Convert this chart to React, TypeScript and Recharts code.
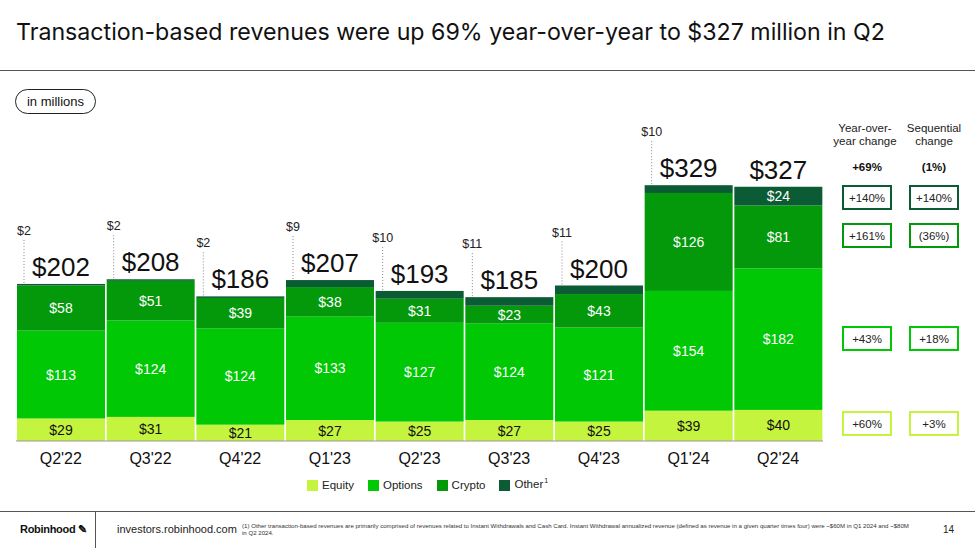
import { Bar, BarChart, XAxis, YAxis } from "recharts";

const quarters = ["Q2'22", "Q3'22", "Q4'22", "Q1'23", "Q2'23", "Q3'23", "Q4'23", "Q1'24", "Q2'24"];
const equity = [29, 31, 21, 27, 25, 27, 25, 39, 40];
const options = [113, 124, 124, 133, 127, 124, 121, 154, 182];
const crypto = [58, 51, 39, 38, 31, 23, 43, 126, 81];
const other = [2, 2, 2, 9, 10, 11, 11, 10, 24];
const totals = [202, 208, 186, 207, 193, 185, 200, 329, 327];
const otherInside = ["Q2'24"];

const yoyHeader = "+69%";
const seqHeader = "(1%)";
const yoyChanges = ["+140%", "+161%", "+43%", "+60%"];
const seqChanges = ["+140%", "(36%)", "+18%", "+3%"];

const COLORS = {
    equity: "#c5f43e",
    options: "#00c805",
    crypto: "#03990b",
    other: "#0b5b34",
};

const TITLE_FONT = "Inter, 'Liberation Sans', sans-serif";
const FONT = "'Liberation Sans', Arial, sans-serif";

const data = quarters.map((q, i) => ({
    q,
    equity: equity[i],
    options: options[i],
    crypto: crypto[i],
    other: other[i],
    total: totals[i],
}));

const segmentShape = (key: string, textColor: string) => (props: any) => {
    const { x, y, width, height, fill, payload } = props;
    const showInside = key !== "other" || otherInside.includes(payload.q);
    return (
        <g>
            <rect x={x} y={y} width={width} height={height} fill={fill} />
            {showInside && (
                <text
                    x={x + width / 2}
                    y={y + height / 2}
                    textAnchor="middle"
                    dominantBaseline="central"
                    fill={textColor}
                    fontSize={14}
                    fontFamily={FONT}
                >
                    ${payload[key]}
                </text>
            )}
            {key === "other" && (
                <text
                    x={x + width / 2}
                    y={y - 17}
                    textAnchor="middle"
                    dominantBaseline="central"
                    fill="#111"
                    fontSize={26}
                    fontFamily={FONT}
                >
                    ${payload.total}
                </text>
            )}
            {key === "other" && !showInside && (
                <g>
                    <line
                        x1={x + 7}
                        x2={x + 7}
                        y1={y - 1}
                        y2={y - 44}
                        stroke="#888"
                        strokeDasharray="1 2"
                    />
                    <text
                        x={x + 7}
                        y={y - 53}
                        textAnchor="middle"
                        dominantBaseline="central"
                        fill="#222"
                        fontSize={12.5}
                        fontFamily={FONT}
                    >
                        ${payload.other}
                    </text>
                </g>
            )}
        </g>
    );
};

const legendItems = [
    { label: "Equity", color: COLORS.equity },
    { label: "Options", color: COLORS.options },
    { label: "Crypto", color: COLORS.crypto },
    { label: "Other", color: COLORS.other, sup: "1" },
];

const boxRows = [
    { top: 185, color: COLORS.other },
    { top: 223, color: COLORS.crypto },
    { top: 326, color: COLORS.options },
    { top: 411, color: COLORS.equity },
];

const Box = ({ left, top, color, text }: any) => (
    <div
        style={{
            position: "absolute",
            left,
            top,
            width: 50,
            height: 25,
            border: `2px solid ${color}`,
            boxSizing: "border-box",
            display: "flex",
            alignItems: "center",
            justifyContent: "center",
            fontSize: 11.5,
            color: "#222",
        }}
    >
        {text}
    </div>
);

export default function App() {
    return (
        <div
            style={{
                position: "absolute",
                left: 0,
                top: 0,
                width: 975,
                height: 548,
                background: "#fff",
                fontFamily: FONT,
                overflow: "hidden",
            }}
        >
            <div
                style={{
                    position: "absolute",
                    left: 16,
                    top: 18,
                    fontSize: 23.2,
                    fontFamily: TITLE_FONT,
                    color: "#111",
                    whiteSpace: "nowrap",
                }}
            >
                Transaction-based revenues were up 69% year-over-year to $327 million in Q2
            </div>
            <div style={{ position: "absolute", left: 0, top: 70, width: 975, height: 1, background: "#555" }} />
            <div
                style={{
                    position: "absolute",
                    left: 15,
                    top: 89,
                    width: 81,
                    height: 25,
                    border: "1px solid #222",
                    borderRadius: 13,
                    boxSizing: "border-box",
                    display: "flex",
                    alignItems: "center",
                    justifyContent: "center",
                    fontSize: 13,
                    color: "#111",
                }}
            >
                in millions
            </div>

            <div style={{ position: "absolute", left: 0, top: 0 }}>
                <BarChart
                    width={975}
                    height={548}
                    data={data}
                    margin={{ top: 130, right: 152, left: 16, bottom: 77 }}
                    barCategoryGap={1}
                >
                    <YAxis hide domain={[0, 400]} />
                    <XAxis
                        dataKey="q"
                        height={30}
                        tickLine={false}
                        axisLine={{ stroke: "#999" }}
                        tick={{ fontSize: 16, fill: "#111", fontFamily: FONT }}
                        tickMargin={6}
                    />
                    <Bar dataKey="equity" stackId="a" fill={COLORS.equity} shape={segmentShape("equity", "#111")} isAnimationActive={false} />
                    <Bar dataKey="options" stackId="a" fill={COLORS.options} shape={segmentShape("options", "#fff")} isAnimationActive={false} />
                    <Bar dataKey="crypto" stackId="a" fill={COLORS.crypto} shape={segmentShape("crypto", "#fff")} isAnimationActive={false} />
                    <Bar dataKey="other" stackId="a" fill={COLORS.other} shape={segmentShape("other", "#fff")} isAnimationActive={false} />
                </BarChart>
            </div>

            <div style={{ position: "absolute", left: 307, top: 478, display: "flex", alignItems: "center", fontSize: 11.5, lineHeight: "13px", color: "#222" }}>
                {legendItems.map((it) => (
                    <div key={it.label} style={{ display: "flex", alignItems: "center", marginRight: 14 }}>
                        <span style={{ width: 11, height: 11, background: it.color, display: "inline-block", marginRight: 4 }} />
                        <span style={{ lineHeight: "13px" }}>
                            {it.label}
                            {it.sup && (
                                <span style={{ fontSize: 7, position: "relative", top: -5, marginLeft: 1 }}>{it.sup}</span>
                            )}
                        </span>
                    </div>
                ))}
            </div>

            <div style={{ position: "absolute", left: 832, top: 122, width: 66, textAlign: "center", fontSize: 11.5, lineHeight: "13px", color: "#222" }}>
                Year-over-
                <br />
                year change
            </div>
            <div style={{ position: "absolute", left: 901, top: 122, width: 66, textAlign: "center", fontSize: 11.5, lineHeight: "13px", color: "#222" }}>
                Sequential
                <br />
                change
            </div>
            <div style={{ position: "absolute", left: 842, top: 161, width: 50, textAlign: "center", fontSize: 11.5, fontWeight: 700, color: "#111" }}>
                {yoyHeader}
            </div>
            <div style={{ position: "absolute", left: 909, top: 161, width: 50, textAlign: "center", fontSize: 11.5, fontWeight: 700, color: "#111" }}>
                {seqHeader}
            </div>
            {boxRows.map((r, i) => (
                <div key={i}>
                    <Box left={842} top={r.top} color={r.color} text={yoyChanges[i]} />
                    <Box left={909} top={r.top} color={r.color} text={seqChanges[i]} />
                </div>
            ))}

            <div style={{ position: "absolute", left: 0, top: 511, width: 975, height: 1, background: "#555" }} />
            <div style={{ position: "absolute", left: 95, top: 511, width: 1, height: 37, background: "#555" }} />
            <div style={{ position: "absolute", left: 20, top: 523, fontSize: 11, fontWeight: 700, color: "#111", letterSpacing: -0.3 }}>
                Robinhood ✎
            </div>
            <div style={{ position: "absolute", left: 117, top: 523, fontSize: 11, color: "#222" }}>investors.robinhood.com</div>
            <div
                style={{
                    position: "absolute",
                    left: 242,
                    top: 522,
                    fontSize: 6.1,
                    lineHeight: "7px",
                    color: "#333",
                    whiteSpace: "nowrap",
                }}
            >
                (1) Other transaction-based revenues are primarily comprised of revenues related to Instant Withdrawals and Cash Card. Instant Withdrawal annualized revenue (defined as revenue in a given quarter times four) were ~$60M in Q1 2024 and ~$80M
                <br />
                in Q2 2024.
            </div>
            <div style={{ position: "absolute", left: 943, top: 524, fontSize: 10, color: "#222" }}>14</div>
        </div>
    );
}
